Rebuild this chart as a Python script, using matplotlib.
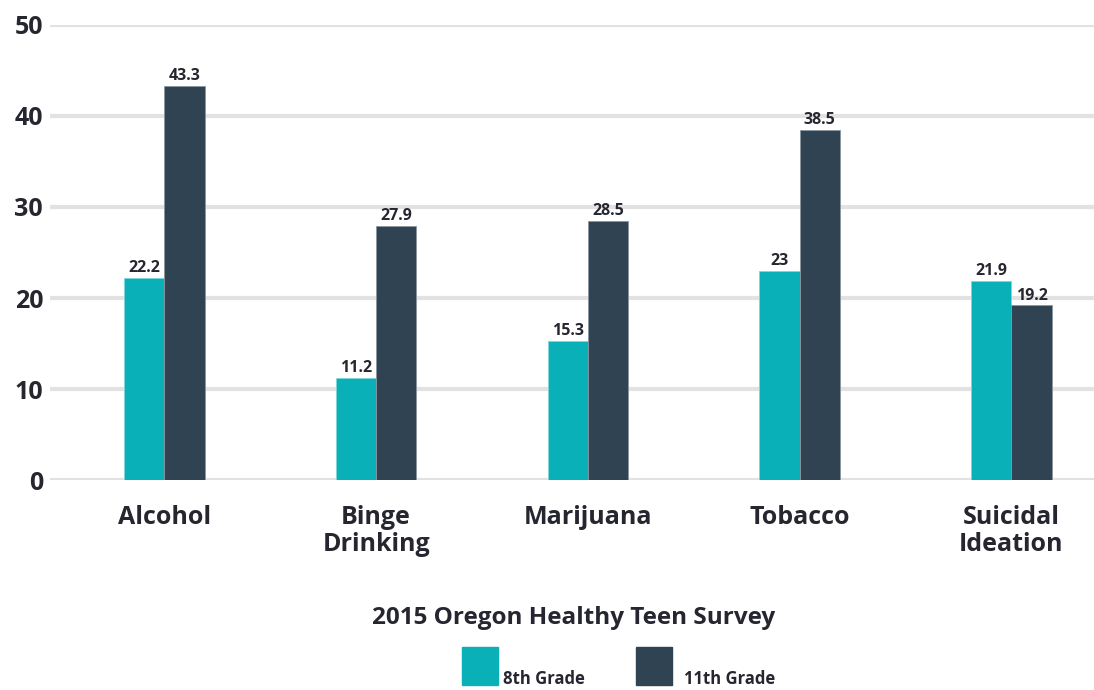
import numpy as np
import matplotlib.pyplot as plt
from matplotlib.patches import Rectangle

categories = ["Alcohol", "Binge\nDrinking", "Marijuana", "Tobacco", "Suicidal\nIdeation"]
grade8 = [22.2, 11.2, 15.3, 23, 21.9]
grade11 = [43.3, 27.9, 28.5, 38.5, 19.2]
series_names = ["8th Grade", "11th Grade"]

teal = "#0ab0b8"
slate = "#304352"
text_col = "#262630"

plt.rcParams['font.family'] = ['Open Sans', 'DejaVu Sans']
plt.rcParams['font.weight'] = 'bold'

fig = plt.figure(figsize=(10.94, 6.90), dpi=100)
ax = fig.add_axes([0.0457, 0.304, 0.9543, 0.66])

x = np.arange(len(categories))
w = 0.19
b1 = ax.bar(x - w / 2, grade8, w, color=teal, edgecolor="#7fd6da", linewidth=0.6, zorder=3)
b2 = ax.bar(x + w / 2, grade11, w, color=slate, edgecolor="#8a96a0", linewidth=0.6, zorder=3)

for bars, vals in ((b1, grade8), (b2, grade11)):
    for r, v in zip(bars, vals):
        ax.text(r.get_x() + r.get_width() / 2, v + 0.2, f"{v:g}", ha="center", va="bottom",
                fontsize=11.5, fontweight="bold", color=text_col, zorder=4)

ax.set_xlim(-0.54, 4.39)
ax.set_ylim(0, 50)
ax.set_yticks([0, 10, 20, 30, 40, 50])
ax.yaxis.grid(True, color="#e2e2e2", linewidth=3, zorder=0)
ax.set_axisbelow(True)
for s in ax.spines.values():
    s.set_visible(False)
ax.tick_params(axis="y", length=0, pad=5, labelsize=18, labelcolor=text_col)
ax.set_xticks([])
for xi, lab in zip(x, categories):
    ax.text(xi, -2.7, lab, ha="center", va="top", fontsize=18, fontweight="bold",
            color=text_col, linespacing=1.1)
for t in ax.get_yticklabels():
    t.set_fontweight("bold")

fig.text(0.524, 0.104, "2015 Oregon Healthy Teen Survey", ha="center", va="center",
         fontsize=17.5, fontweight="bold", color=text_col)

# legend swatches with labels beside their lower edge
for (x0, tx), col, name in zip(((462, 503), (636, 684)), (teal, slate), series_names):
    fig.patches.append(Rectangle((x0 / 1094, (690 - 685) / 690), 36 / 1094, 38 / 690,
                                 transform=fig.transFigure, color=col))
    fig.text(tx / 1094, (690 - 688) / 690, name, ha="left", va="bottom",
             fontsize=12, fontweight="bold", color=text_col)

fig.savefig("out.png", dpi=100, facecolor="white")
